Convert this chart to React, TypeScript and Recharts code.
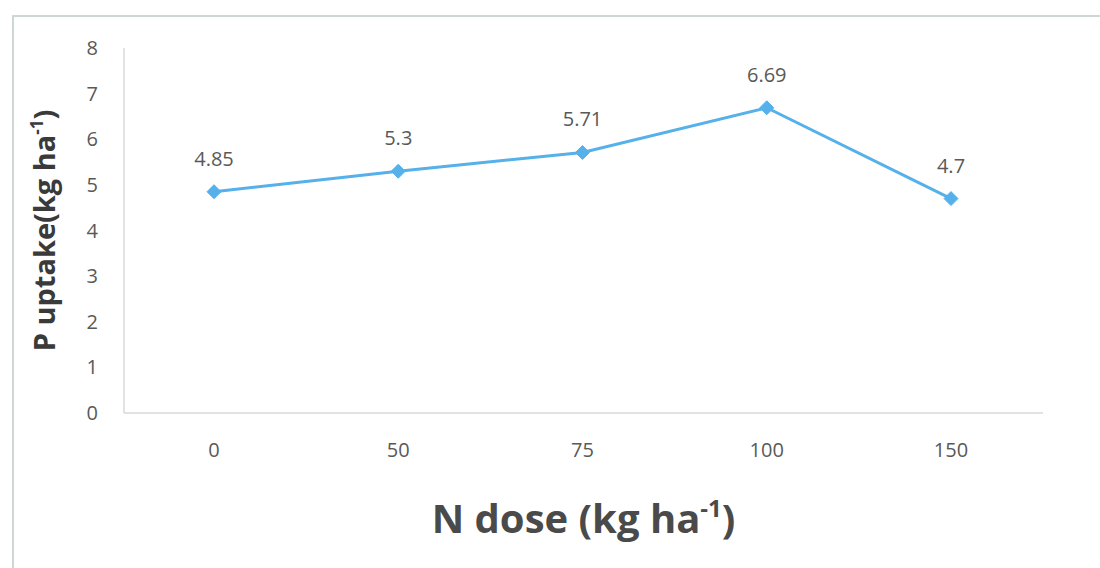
import { LineChart, Line, XAxis, YAxis, LabelList } from "recharts"

// N dose levels (kg/ha) and the matching P uptake (kg/ha)
const doses = ["0", "50", "75", "100", "150"]
const uptake = [4.85, 5.3, 5.71, 6.69, 4.7]
const yTicks = [0, 1, 2, 3, 4, 5, 6, 7, 8]

const data = doses.map((dose, i) => ({ dose, uptake: uptake[i] }))

const LINE = "#56b0ea"
const TEXT = "#595959"
const FONT = "'Open Sans', 'Liberation Sans', sans-serif"

const Diamond = ({ cx, cy }: any) => {
  if (cx == null || cy == null) return null
  const r = 7
  return (
    <polygon
      points={`${cx},${cy - r} ${cx + r},${cy} ${cx},${cy + r} ${cx - r},${cy}`}
      fill={LINE}
      stroke={LINE}
    />
  )
}

const XTitle = ({ viewBox }: any) => {
  const cx = viewBox.x + viewBox.width / 2
  return (
    <text x={cx} y={533} textAnchor="middle" fill="#4a4a4a" fontFamily={FONT} fontWeight={700} fontSize={40}>
      N dose (kg ha
      <tspan fontSize={24} dy={-16}>-1</tspan>
      <tspan dy={16}>)</tspan>
    </text>
  )
}

const YTitle = ({ viewBox }: any) => {
  const cy = viewBox.y + viewBox.height / 2
  const cx = 55
  return (
    <text
      x={cx}
      y={cy}
      transform={`rotate(-90 ${cx} ${cy})`}
      textAnchor="middle"
      fill="#3a3a3a"
      fontFamily={FONT}
      fontWeight={700}
      fontSize={29}
    >
      P uptake(kg ha
      <tspan fontSize={17} dy={-12}>-1</tspan>
      <tspan dy={12}>)</tspan>
    </text>
  )
}

export default function App() {
  return (
    <div style={{ position: "fixed", left: 0, top: 0, width: 1100, height: 568, background: "#fff", overflow: "hidden" }}>
      <div
        style={{
          position: "absolute",
          left: 12,
          top: 15,
          width: 1200,
          height: 700,
          borderLeft: "2px solid #cdd8d6",
          borderTop: "2px solid #cdd8d6",
        }}
      />
      <LineChart
        width={1100}
        height={568}
        data={data}
        margin={{ top: 48, right: 57, bottom: 95, left: 0 }}
        style={{ position: "absolute", left: 0, top: 0 }}
      >
        <XAxis
          dataKey="dose"
          height={60}
          padding={{ left: 90, right: 92 }}
          axisLine={{ stroke: "#d9d9d9", strokeWidth: 1.5 }}
          tickLine={false}
          tickMargin={24}
          tick={{ fill: TEXT, fontSize: 20, fontFamily: FONT }}
          label={<XTitle />}
        />
        <YAxis
          width={124}
          domain={[0, 8]}
          ticks={yTicks}
          interval={0}
          axisLine={{ stroke: "#d9d9d9", strokeWidth: 1.5 }}
          tickLine={false}
          tickMargin={20}
          tick={{ fill: TEXT, fontSize: 20, fontFamily: FONT }}
          label={<YTitle />}
        />
        <Line
          dataKey="uptake"
          stroke={LINE}
          strokeWidth={3}
          dot={<Diamond />}
          activeDot={false}
          isAnimationActive={false}
        >
          <LabelList dataKey="uptake" position="top" offset={26} fill={TEXT} fontSize={20} fontFamily={FONT} />
        </Line>
      </LineChart>
    </div>
  )
}
